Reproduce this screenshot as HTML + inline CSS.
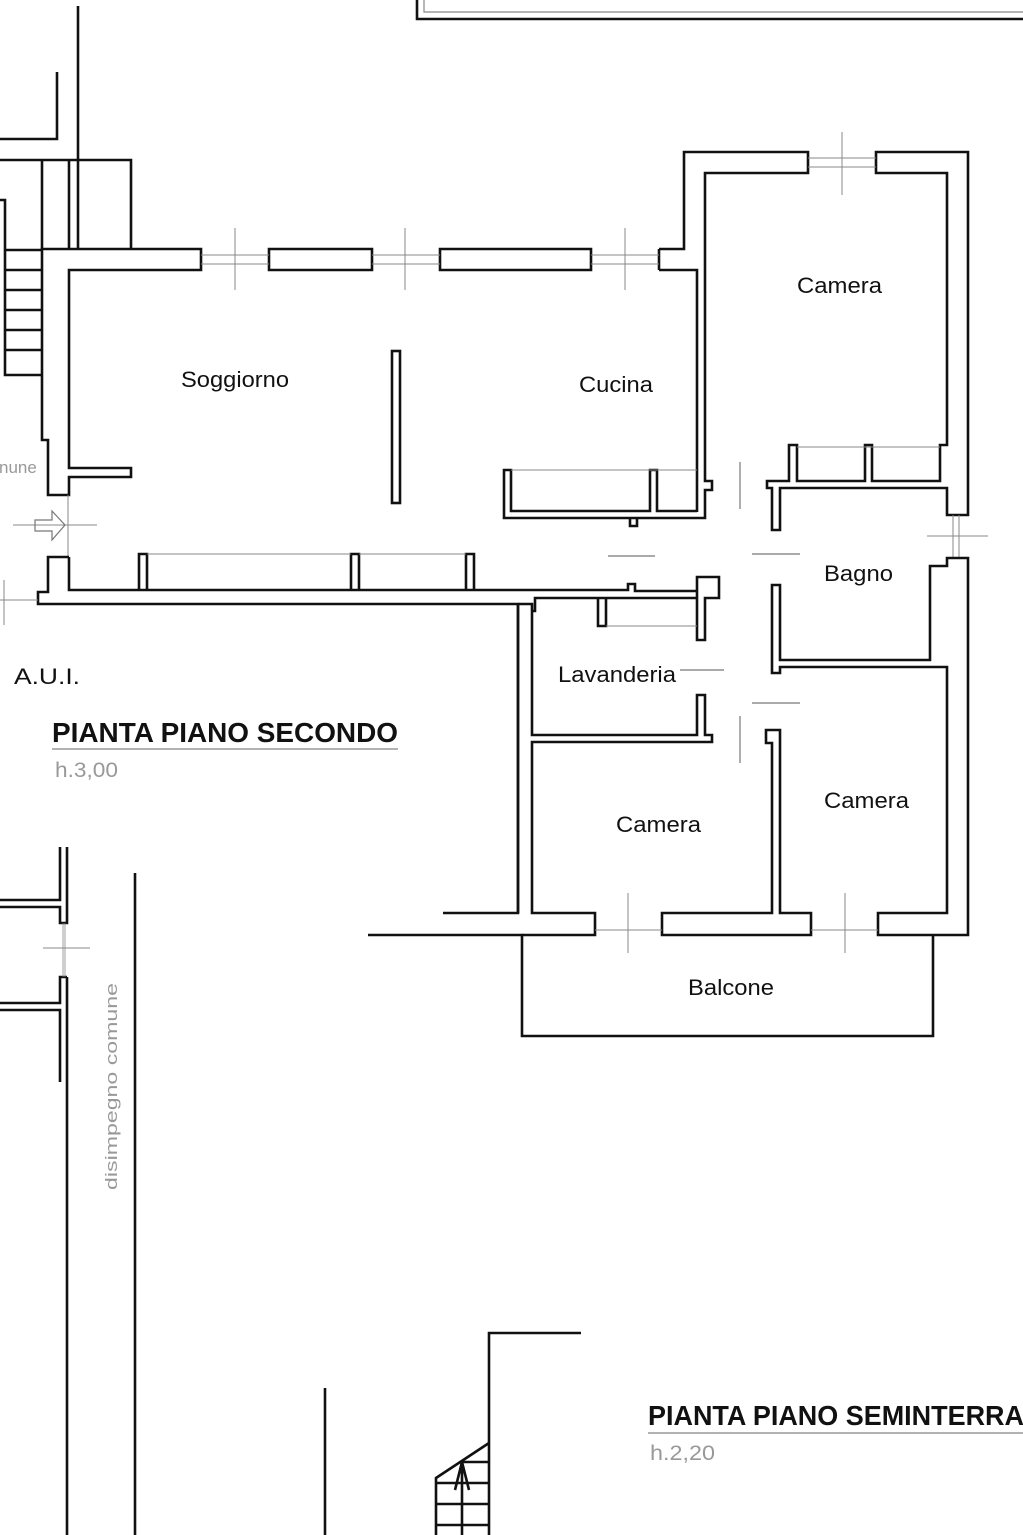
<!DOCTYPE html>
<html><head><meta charset="utf-8"><style>
html,body{margin:0;padding:0;background:#fff;}
svg{display:block;}
text{font-family:"Liberation Sans",sans-serif;}
</style></head><body>
<svg width="1023" height="1535" viewBox="0 0 1023 1535" xmlns="http://www.w3.org/2000/svg">
<rect width="1023" height="1535" fill="#fff"/>
<g fill="none" stroke="#111" stroke-width="2.6" stroke-linejoin="miter">
<path d="M417,0 V19 H1023"/>
<path d="M424,0 V12 H1023" stroke="#888" stroke-width="1.2"/>
<path d="M78,6 V249"/>
<path d="M0,139 H57 V72"/>
<path d="M0,160 H131 V249"/>
<path d="M42,160 V249"/>
<path d="M69,160 V249"/>
<path d="M0,200 H5 V375 H42"/>
<path d="M5,250 H42 M5,270 H42 M5,290 H42 M5,310 H42 M5,330 H42 M5,350 H42"/>
<path d="M201,249 H42 V440 H48 V495 H69 V477 H131 V468 H69 V270 H201 Z"/>
<path d="M269,249 H372 V270 H269 Z"/>
<path d="M440,249 H591 V270 H440 Z"/>
<path d="M659,270 H697 V512"/>
<path d="M659,249 V270"/>
<path d="M659,249 H684 V152 H808 V173 H705 V481 H712 V490 H705 V518 H504 V470 H511 V511 H650 V470 H657 V511 H697"/>
<path d="M630,518 V526 H637 V518"/>
<path d="M201,255 H269 M201,264 H269 M372,255 H440 M372,264 H440 M591,255 H659 M591,264 H659" stroke="#888" stroke-width="1"/>
<path d="M235,228 V290 M405,228 V290 M625,228 V290" stroke="#888" stroke-width="1"/>
<path d="M511,470 H697" stroke="#888" stroke-width="1"/>
<path d="M68,495 V557" stroke="#888" stroke-width="1"/>
<path d="M13,525 H97" stroke="#888" stroke-width="1"/>
<path d="M35,520 H52 V511 L65,525 L52,540 V531 H35 Z" stroke="#777" stroke-width="1.2"/>
<path d="M69,557 H48 V592 H38 V604 H518 V913 H443"/>
<path d="M69,557 V590 H628 V584 H635 V591 H697"/>
<path d="M0,600 H38" stroke="#888" stroke-width="1"/>
<path d="M4,580 V625" stroke="#888" stroke-width="1"/>
<path d="M139,590 V554 H147 V590 M351,590 V554 H359 V590 M466,590 V554 H474 V590"/>
<path d="M147,554 H351 M359,554 H466" stroke="#888" stroke-width="1"/>
<rect x="392" y="351" width="8" height="152"/>
<path d="M876,152 H968 V515 H947 V488 H780 V530 H772 V488 H767 V481 H789 V445 H797 V481 H865 V445 H872 V481 H940 V445 H947 V173 H876 Z"/>
<path d="M808,158 H876 M808,167 H876" stroke="#888" stroke-width="1"/>
<path d="M842,132 V195" stroke="#888" stroke-width="1"/>
<path d="M797,447 H940" stroke="#888" stroke-width="1"/>
<path d="M953,515 V558 M959,515 V558 M927,536 H988" stroke="#888" stroke-width="1"/>
<path d="M968,558 V935 H878 V913 H947 V667 H780 V673 H772 V585 H780 V660 H930 V566 H947 V558 Z"/>
<path d="M518,604 V913"/>
<path d="M532,611 H535 V598 H697 V577 H719 V598 H705 V640 H697 V598"/>
<path d="M518,604 H532 V735 H697 V695 H705 V735 H712 V742 H532 V913 H595 V935 H522"/>
<path d="M598,598 V626 H606 V598"/>
<path d="M606,626 H697" stroke="#888" stroke-width="1"/>
<path d="M662,913 H772 V743 H766 V730 H780 V913 H811 V935 H662 Z"/>
<path d="M595,930 H662 M811,930 H878" stroke="#888" stroke-width="1"/>
<path d="M628,893 V953 M845,893 V953" stroke="#888" stroke-width="1"/>
<path d="M752,554 H800 M608,556 H655 M740,462 V509 M752,703 H800 M740,716 V763 M680,670 H724" stroke="#777" stroke-width="1.2"/>
<path d="M368,935 H522 V1036 H933 V935"/>
<path d="M60,847 V900 H0 M0,907 H60 V923 H67 V847"/>
<path d="M67,977 H60 V1003 H0 M0,1010 H60 V1082 M67,977 V1535"/>
<path d="M63,923 V977 M65,923 V977" stroke="#888" stroke-width="0.8"/>
<path d="M43,948 H90" stroke="#888" stroke-width="1"/>
<path d="M135,873 V1535"/>
<path d="M325,1388 V1535"/>
<path d="M581,1333 H489 V1535"/>
<path d="M436,1535 V1478 L489,1443"/>
<path d="M460,1462 H489 M436,1483 H489 M436,1504 H489 M436,1525 H489"/>
<path d="M462,1462 V1535 M455,1490 L462,1462 L469,1490"/>
<path d="M52,749 H398" stroke="#999" stroke-width="1.5"/>
<path d="M648,1433 H1023" stroke="#999" stroke-width="1.5"/>
</g>
<g font-size="22" fill="#111">
<text x="181" y="387" textLength="108" lengthAdjust="spacingAndGlyphs">Soggiorno</text>
<text x="579" y="392" textLength="74" lengthAdjust="spacingAndGlyphs">Cucina</text>
<text x="797" y="293" textLength="85" lengthAdjust="spacingAndGlyphs">Camera</text>
<text x="824" y="581" textLength="69" lengthAdjust="spacingAndGlyphs">Bagno</text>
<text x="558" y="682" textLength="118" lengthAdjust="spacingAndGlyphs">Lavanderia</text>
<text x="616" y="832" textLength="85" lengthAdjust="spacingAndGlyphs">Camera</text>
<text x="824" y="808" textLength="85" lengthAdjust="spacingAndGlyphs">Camera</text>
<text x="688" y="995" textLength="86" lengthAdjust="spacingAndGlyphs">Balcone</text>
<text x="14" y="684" textLength="66" lengthAdjust="spacingAndGlyphs">A.U.I.</text>
</g>
<text x="-1" y="473" font-size="17" fill="#999">nune</text>
<text x="52" y="742" font-size="28" font-weight="bold" fill="#111" textLength="346" lengthAdjust="spacingAndGlyphs" style="font-family:'Liberation Sans Narrow','Liberation Sans',sans-serif">PIANTA PIANO SECONDO</text>
<text x="55" y="777" font-size="21" fill="#999" textLength="63" lengthAdjust="spacingAndGlyphs">h.3,00</text>
<text x="648" y="1425" font-size="28" font-weight="bold" fill="#111" textLength="376" lengthAdjust="spacingAndGlyphs" style="font-family:'Liberation Sans Narrow','Liberation Sans',sans-serif">PIANTA PIANO SEMINTERRA</text>
<text x="650" y="1460" font-size="21" fill="#999" textLength="65" lengthAdjust="spacingAndGlyphs">h.2,20</text>
<text transform="translate(117,1190) rotate(-90)" font-size="17" fill="#999" textLength="207" lengthAdjust="spacingAndGlyphs">disimpegno  comune</text>
</svg>
</body></html>
